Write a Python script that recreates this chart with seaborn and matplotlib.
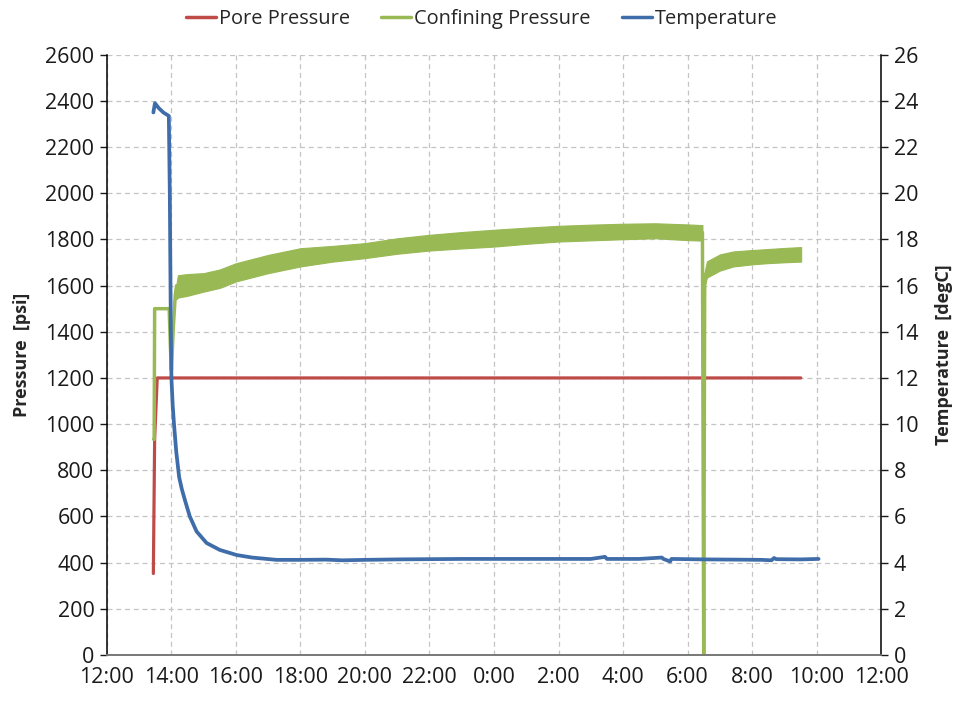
import numpy as np
import pandas as pd
import matplotlib
matplotlib.use("Agg")
import matplotlib.pyplot as plt
from matplotlib.lines import Line2D
import seaborn as sns

# Time axis: hours elapsed since 12:00 on day one
tick_hours = [0, 2, 4, 6, 8, 10, 12, 14, 16, 18, 20, 22, 24]
tick_labels = ["12:00", "14:00", "16:00", "18:00", "20:00", "22:00", "0:00",
               "2:00", "4:00", "6:00", "8:00", "10:00", "12:00"]

# Pore pressure [psi]
pore_t = [1.44, 1.48, 1.56, 4.0, 8.0, 12.0, 16.0, 20.0, 21.51]
pore_p = [353, 934, 1200, 1200, 1200, 1200, 1200, 1200, 1200]

# Confining pressure [psi]: initial ramp-up, then pump drop-out and restart
conf_seg = [0, 0, 0, 0, 0, 0, 0, 0, 0, 1, 1, 1, 1, 1]
conf_t = [1.45, 1.465, 1.48, 1.93, 1.97, 2.00, 2.06, 2.12, 2.16,
          18.44, 18.46, 18.50, 18.53, 18.56]
conf_p = [934, 934, 1500, 1500, 1330, 1235, 1420, 1560, 1600,
          1830, 1830, 0, 1600, 1650]

# Confining pressure cycling range (lower / upper envelope) [psi]
band1_t = [2.15, 2.2, 2.5, 3.0, 3.5, 4.0, 5.0, 6.0, 7.0, 8.0, 9.0, 10.0,
           11.0, 12.0, 13.0, 14.0, 15.0, 16.0, 17.0, 18.0, 18.46]
band1_lo = [1540, 1548, 1556, 1574, 1590, 1618, 1654, 1683, 1704, 1719, 1738,
            1752, 1761, 1769, 1781, 1791, 1796, 1801, 1805, 1797, 1795]
band1_hi = [1600, 1645, 1650, 1654, 1670, 1697, 1733, 1762, 1772, 1784, 1805,
            1820, 1832, 1842, 1851, 1859, 1864, 1868, 1870, 1865, 1862]
band2_t = [18.53, 18.6, 19.0, 19.42, 20.0, 20.45, 21.0, 21.52]
band2_lo = [1600, 1635, 1665, 1683, 1692, 1697, 1701, 1704]
band2_hi = [1660, 1705, 1735, 1748, 1754, 1758, 1763, 1767]

# Temperature [degC]
temp_t = [1.44, 1.49, 1.60, 1.75, 1.92, 1.95, 1.98, 2.00, 2.04, 2.08, 2.15,
          2.24, 2.32, 2.42, 2.57, 2.78, 3.09, 3.5, 4.02, 4.5, 5.26, 6.0,
          6.8, 7.3, 8.0, 9.0, 10.0, 11.0, 12.0, 13.0, 14.0, 15.0, 15.44,
          15.5, 16.5, 17.2, 17.25, 17.46, 17.5, 18.5, 19.5, 20.3, 20.6,
          20.68, 20.75, 21.5, 22.06]
temp_c = [23.5, 23.9, 23.7, 23.5, 23.35, 20.0, 14.5, 12.0, 10.8, 10.0, 8.8,
          7.7, 7.2, 6.7, 6.0, 5.35, 4.85, 4.55, 4.33, 4.22, 4.12, 4.12,
          4.13, 4.10, 4.12, 4.14, 4.15, 4.16, 4.16, 4.16, 4.16, 4.16, 4.25,
          4.16, 4.16, 4.22, 4.16, 4.05, 4.16, 4.14, 4.13, 4.12, 4.10,
          4.20, 4.15, 4.14, 4.16]

RED = "#BE4B48"
GREEN = "#98B954"
BLUE = "#3F6DAA"

sns.set_theme(style="white")
plt.rcParams["font.family"] = ["Open Sans", "DejaVu Sans"]

fig = plt.figure(figsize=(9.63, 7.02), dpi=100)
ax = fig.add_axes([0.111, 0.067, 0.804, 0.855])
ax2 = ax.twinx()

pore = pd.DataFrame({"t": pore_t, "p": pore_p})
conf = pd.DataFrame({"seg": conf_seg, "t": conf_t, "p": conf_p})
temp = pd.DataFrame({"t": temp_t, "c": temp_c})

sns.lineplot(data=pore, x="t", y="p", ax=ax, color=RED, lw=2.3,
             legend=False)
sns.lineplot(data=conf, x="t", y="p", units="seg", estimator=None, ax=ax,
             color=GREEN, lw=2.5, legend=False, sort=False)
ax.fill_between(band1_t, band1_lo, band1_hi, color=GREEN, lw=0.8, edgecolor=GREEN)
ax.fill_between(band2_t, band2_lo, band2_hi, color=GREEN, lw=0.8, edgecolor=GREEN)
sns.lineplot(data=temp, x="t", y="c", ax=ax2, color=BLUE, lw=2.7,
             legend=False)

ax.set_xlim(0, 24)
ax.set_ylim(0, 2600)
ax2.set_ylim(0, 26)
ax.set_xticks(tick_hours)
ax.set_xticklabels(tick_labels)
ax.set_yticks(np.arange(0, 2601, 200))
ax2.set_yticks(np.arange(0, 27, 2))

ax.set_xlabel("")
ax.set_ylabel("Pressure  [psi]", fontsize=13, fontweight="bold", labelpad=10)
ax2.set_ylabel("Temperature  [degC]", fontsize=13, fontweight="bold", labelpad=12)

ax.grid(True, color="#c4c4c4", linestyle=(0, (4, 3)), lw=0.9)
ax2.grid(False)
ax.set_axisbelow(True)

for a in (ax, ax2):
    a.tick_params(axis="both", labelsize=15.5, colors="#1a1a1a", length=5,
                  width=1, direction="out", pad=4)
    a.spines["top"].set_visible(False)
ax.tick_params(axis="x", color="#666666")
ax.spines["left"].set_color("#000000")
ax.spines["right"].set_visible(False)
ax2.spines["left"].set_visible(False)
ax2.spines["right"].set_color("#000000")
ax2.spines["bottom"].set_color("#777777")
ax.spines["bottom"].set_color("#777777")
for s in ("left", "bottom"):
    ax.spines[s].set_linewidth(1.1)
ax2.spines["right"].set_linewidth(1.1)

handles = [Line2D([], [], color=RED, lw=2.5),
           Line2D([], [], color=GREEN, lw=2.5),
           Line2D([], [], color=BLUE, lw=2.5)]
fig.legend(handles, ["Pore Pressure", "Confining Pressure", "Temperature"],
           loc="upper center", bbox_to_anchor=(0.5, 1.013), ncol=3,
           frameon=False, fontsize=14.4, handlelength=1.5, handletextpad=0.15,
           columnspacing=1.55)

fig.savefig("out.png", dpi=100)
